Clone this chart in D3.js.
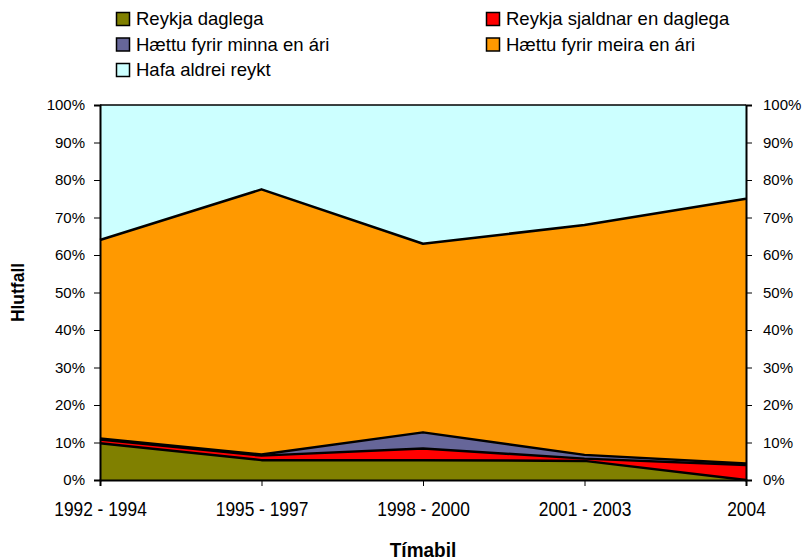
<!DOCTYPE html>
<html>
<head>
<meta charset="utf-8">
<script src="https://cdn.jsdelivr.net/npm/d3@7"></script>
<style>
  body { margin: 0; background: #fff; }
  svg { display: block; font-family: "Liberation Sans", Arial, sans-serif; }
</style>
</head>
<body>
<svg id="chart" width="806" height="560"></svg>
<script>
// Periods on the horizontal axis
const periods = ["1992 - 1994", "1995 - 1997", "1998 - 2000", "2001 - 2003", "2004"];

// Share of each smoking status per period (percent)
const reykjaDaglega  = [9.8, 5.3, 5.3, 5.1, 0.0];
const reykjaSjaldnar = [1.0, 1.2, 3.1, 0.6, 4.0];
const haettuMinna    = [0.3, 0.3, 4.3, 1.0, 0.4];
const haettuMeira    = [52.9, 70.7, 50.3, 61.3, 70.6];
const hafaAldrei     = [36.0, 22.5, 37.0, 32.0, 25.0];

const seriesNames  = ["Reykja daglega", "Reykja sjaldnar en daglega", "Hættu fyrir minna en ári", "Hættu fyrir meira en ári", "Hafa aldrei reykt"];
const seriesValues = [reykjaDaglega, reykjaSjaldnar, haettuMinna, haettuMeira, hafaAldrei];
const seriesColors = ["#808000", "#ff0000", "#666699", "#ff9900", "#ccffff"];
const yTicks = [0, 10, 20, 30, 40, 50, 60, 70, 80, 90, 100];

const svg = d3.select("#chart");
const m = { left: 100, right: 746, top: 105, bottom: 480 };

const rows = periods.map((p, i) => {
  const r = { period: p };
  seriesNames.forEach((n, k) => { r[n] = seriesValues[k][i]; });
  return r;
});
const stacked = d3.stack().keys(seriesNames)(rows);

const x = d3.scalePoint().domain(periods).range([m.left, m.right]);
const y = d3.scaleLinear().domain([0, 100]).range([m.bottom, m.top]);

const area = d3.area()
  .x(d => x(d.data.period))
  .y0(d => y(d[0]))
  .y1(d => y(d[1]));
const topLine = d3.line()
  .x(d => x(d.data.period))
  .y(d => y(d[1]));

// Filled layers
svg.append("g").selectAll("path").data(stacked).join("path")
  .attr("d", area)
  .attr("fill", (d, i) => seriesColors[i]);

// Black boundary on top of each layer below the 100% line
svg.append("g").selectAll("path").data(stacked.slice(0, 4)).join("path")
  .attr("d", topLine)
  .attr("fill", "none")
  .attr("stroke", "#000")
  .attr("stroke-width", 2.5)
  .attr("stroke-linejoin", "round");

// Plot frame top
svg.append("line")
  .attr("x1", m.left).attr("x2", m.right)
  .attr("y1", m.top).attr("y2", m.top)
  .attr("stroke", "#000").attr("stroke-width", 1.5);

const fmt = d => d + "%";

// Left axis
const yLeft = svg.append("g")
  .attr("transform", `translate(${m.left},0)`)
  .call(d3.axisLeft(y).tickValues(yTicks).tickFormat(fmt).tickSize(6).tickPadding(9));
// Right axis
const yRight = svg.append("g")
  .attr("transform", `translate(${m.right},0)`)
  .call(d3.axisRight(y).tickValues(yTicks).tickFormat(fmt).tickSize(6).tickPadding(11));
// Bottom axis
const xAxis = svg.append("g")
  .attr("transform", `translate(0,${m.bottom})`)
  .call(d3.axisBottom(x).tickSize(6).tickPadding(16));

[yLeft, yRight, xAxis].forEach(g => {
  g.select(".domain").attr("stroke", "#000").attr("stroke-width", 2);
  g.selectAll(".tick line").attr("stroke", "#000");
  g.selectAll("text").attr("fill", "#000")
    .attr("font-family", "'Liberation Sans', Arial, sans-serif");
});
yLeft.selectAll("text").attr("font-size", 15);
yRight.selectAll("text").attr("font-size", 15);
// Period labels are set tall and narrow
xAxis.selectAll("text").attr("font-size", 19.5).attr("transform", "scale(0.89,1)");

// Axis titles
svg.append("g")
  .attr("transform", `translate(24,${(m.top + m.bottom) / 2}) rotate(-90) scale(0.92,1)`)
  .append("text")
  .attr("text-anchor", "middle")
  .attr("font-size", 19).attr("font-weight", "bold")
  .text("Hlutfall");
svg.append("g")
  .attr("transform", `translate(${(m.left + m.right) / 2},557) scale(0.95,1)`)
  .append("text")
  .attr("text-anchor", "middle")
  .attr("font-size", 20).attr("font-weight", "bold")
  .text("Tímabil");

// Legend: two columns, filled in row order
const legend = svg.append("g");
const colX = [116.5, 486.5];
const rowY = [19, 44.5, 70];
seriesNames.forEach((n, i) => {
  const cx = colX[i % 2], cy = rowY[Math.floor(i / 2)];
  const g = legend.append("g").attr("transform", `translate(${cx},${cy})`);
  g.append("rect").attr("x", 0).attr("y", -6.5).attr("width", 13).attr("height", 13)
    .attr("fill", seriesColors[i]).attr("stroke", "#000").attr("stroke-width", 1.5);
  g.append("text").attr("x", 19.5).attr("y", 0).attr("dy", "0.35em")
    .attr("font-size", 18.5).text(n);
});
</script>
</body>
</html>
